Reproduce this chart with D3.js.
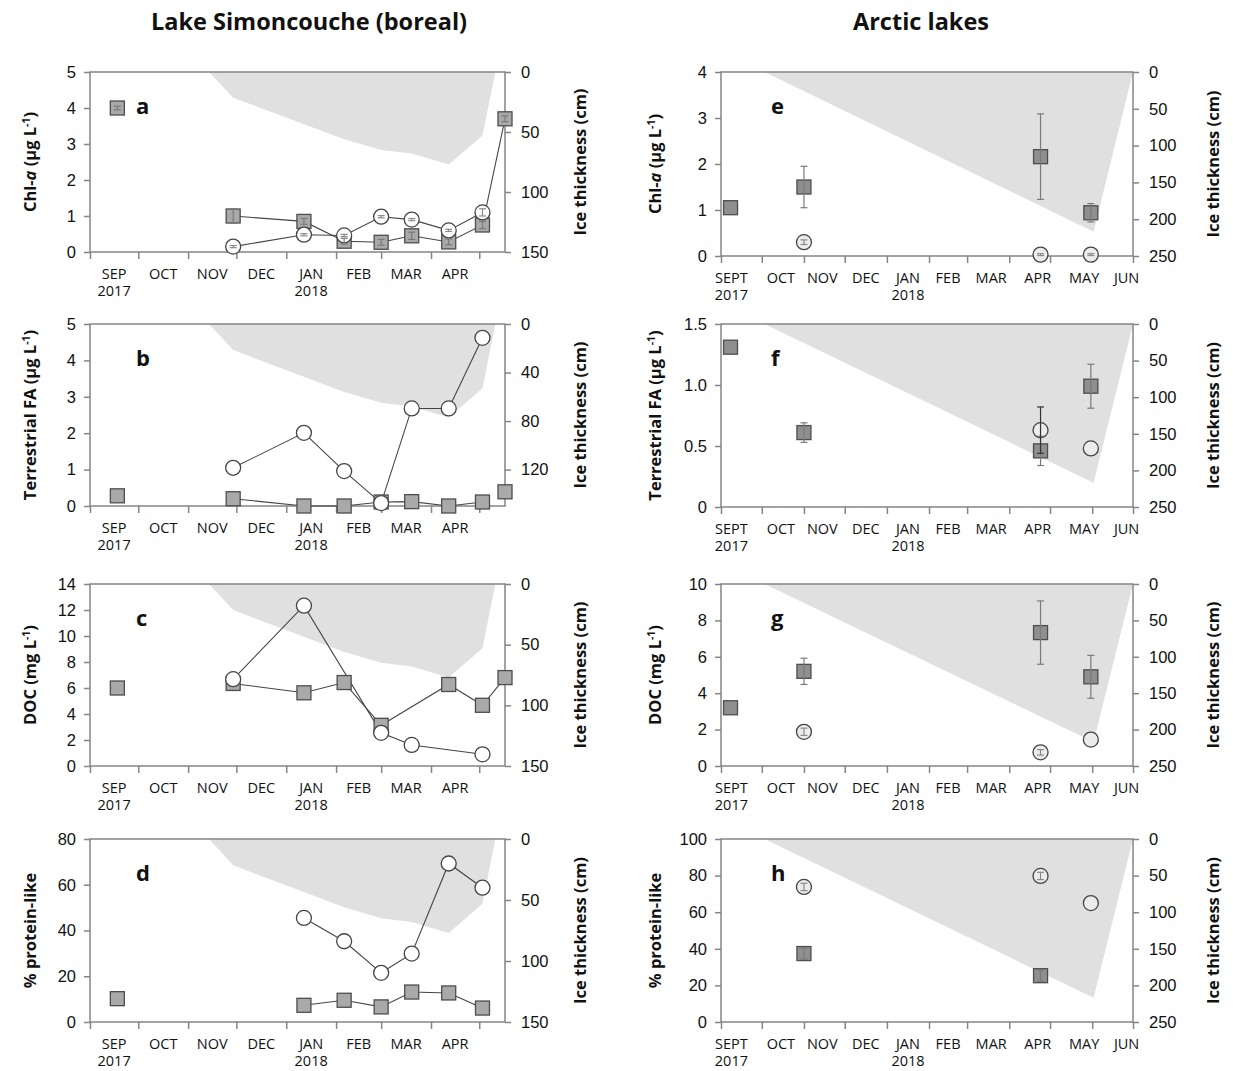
<!DOCTYPE html>
<html lang="en">
<head>
<meta charset="UTF-8">
<title>Ice-covered lakes</title>
<script src="https://d3js.org/d3.v7.min.js"></script>
<style>
    body { margin: 0; background: #fff; }
    svg { display: block; font-family: 'Open Sans', sans-serif; }
    .tick-label { font-size: 16.5px; fill: #111; }
    .month { font-size: 14.5px; fill: #111; }
    .axis-title { font-size: 16.5px; font-weight: bold; fill: #111; }
    .panel-letter { font-size: 22px; font-weight: bold; fill: #111; }
    .col-title { font-size: 23.5px; font-weight: bold; fill: #111; }
</style>
</head>
<body>
<svg id="chart" width="1233" height="1071"></svg>
<script>
    const parse = d3.timeParse("%Y-%m-%d");

    // sampling dates
    const borealDates = ["2017-09-18", "2017-11-29", "2018-01-12", "2018-02-06", "2018-03-01",
        "2018-03-20", "2018-04-12", "2018-05-03", "2018-05-17"];
    const arcticDates = ["2017-09-08", "2017-11-01", "2018-04-24", "2018-05-31"];

    const borealMonths = ["SEP", "OCT", "NOV", "DEC", "JAN", "FEB", "MAR", "APR"];
    const arcticMonths = ["SEPT", "OCT", "NOV", "DEC", "JAN", "FEB", "MAR", "APR", "MAY", "JUN"];
    // small horizontal nudges of the arctic month labels (px)
    const arcticMonthNudge = [-10, -2, -2, 0, 0, 0, 3, 8, 13, 14];

    // ice thickness (cm)
    const borealIceDates = ["2017-11-14", "2017-11-29", "2018-01-12", "2018-02-06", "2018-03-01",
        "2018-03-20", "2018-04-12", "2018-05-03", "2018-05-11"];
    const borealIceCm = [0, 21.5, 43.5, 56, 65, 68, 77, 53, 0];
    const arcticIceDates = ["2017-10-03", "2018-06-02", "2018-07-01"];
    const arcticIceCm = [0, 217, 0];

    // Lake Simoncouche: squares and circles
    const chlSq = [4.0, 1.0, 0.85, 0.30, 0.27, 0.45, 0.28, 0.75, 3.7];
    const chlSqErr = [0.05, 0.2, 0.08, 0.08, 0.08, 0.1, 0.08, 0.1, 0.08];
    const chlCi = [null, 0.15, 0.48, 0.46, 0.98, 0.90, 0.60, 1.10, null];
    const chlCiErr = [0, 0.03, 0.03, 0.03, 0.03, 0.03, 0.03, 0.1, 0];

    const tfaSq = [0.28, 0.20, 0.0, 0.0, 0.11, 0.12, 0.0, 0.11, 0.39];
    const tfaCi = [null, 1.05, 2.01, 0.96, 0.08, 2.68, 2.68, 4.62, null];

    const docSq = [6.0, 6.35, 5.63, 6.42, 3.13, null, 6.27, 4.67, 6.8];
    const docCi = [null, 6.68, 12.33, null, 2.55, 1.62, null, 0.9, null];

    const protSq = [10.2, null, 7.3, 9.5, 6.6, 13.1, 12.7, 6.1, null];
    const protCi = [null, null, 45.5, 35.3, 21.5, 29.9, 69.3, 58.7, null];

    // Arctic lakes: squares and circles with error bars
    const aChlSq = [1.05, 1.5, 2.16, 0.94];
    const aChlSqErr = [0, 0.45, 0.93, 0.2];
    const aChlCi = [null, 0.3, 0.03, 0.03];
    const aChlCiErr = [0, 0.05, 0.02, 0.02];

    const aTfaSq = [1.31, 0.61, 0.46, 0.99];
    const aTfaSqErr = [0, 0.08, 0.12, 0.18];
    const aTfaCi = [null, null, 0.63, 0.48];
    const aTfaCiErr = [0, 0, 0.19, 0];

    const aDocSq = [3.2, 5.2, 7.33, 4.9];
    const aDocSqErr = [0, 0.72, 1.74, 1.18];
    const aDocCi = [null, 1.88, 0.75, 1.45];
    const aDocCiErr = [0, 0.2, 0.15, 0];

    const aProtSq = [null, 37.4, 25.3, null];
    const aProtSqErr = [0, 3, 3, 0];
    const aProtCi = [null, 73.8, 79.8, 65];
    const aProtCiErr = [0, 2, 2, 0];

    const svg = d3.select("#chart");
    const axisColor = "#858585";

    svg.append("text").attr("class", "col-title").attr("x", 309).attr("y", 30)
        .attr("text-anchor", "middle").text("Lake Simoncouche (boreal)");
    svg.append("text").attr("class", "col-title").attr("x", 921).attr("y", 30)
        .attr("text-anchor", "middle").text("Arctic lakes");

    const chlTitle = [["Chl-"], ["a", "italic"], [" (µg L"], ["-1", "sup"], [")", "after"]];
    const tfaTitle = [["Terrestrial FA (µg L"], ["-1", "sup"], [")", "after"]];
    const docTitle = [["DOC (mg L"], ["-1", "sup"], [")", "after"]];
    const protTitle = [["% protein-like"]];

    const L = {x0: 90, x1: 505, start: "2017-09-01", end: "2018-05-17", months: borealMonths,
        dates: borealDates, iceDates: borealIceDates, ice: borealIceCm, iceMax: 150,
        titleX: 30, iceTitleX: 580, letterDx: 46};
    const R = {x0: 721, x1: 1133, start: "2017-09-01", end: "2018-07-01", months: arcticMonths,
        nudge: arcticMonthNudge, dates: arcticDates, iceDates: arcticIceDates, ice: arcticIceCm, iceMax: 250,
        titleX: 655, iceTitleX: 1213, letterDx: 50};

    const panels = [
        {side: L, y0: 72, y1: 252, max: 5, step: 1, fmt: d3.format("d"), iceStep: 50, title: chlTitle, letter: "a",
            sq: chlSq, sqErr: chlSqErr, ci: chlCi, ciErr: chlCiErr, sqLink: [1, 8], ciLink: [1, 7]},
        {side: L, y0: 324, y1: 506, max: 5, step: 1, fmt: d3.format("d"), iceStep: 40, title: tfaTitle, letter: "b",
            sq: tfaSq, ci: tfaCi, sqLink: [1, 7], ciLink: [1, 7]},
        {side: L, y0: 584, y1: 766, max: 14, step: 2, fmt: d3.format("d"), iceStep: 50, title: docTitle, letter: "c",
            sq: docSq, ci: docCi, sqLink: [1, 8], ciLink: [1, 7]},
        {side: L, y0: 839, y1: 1022, max: 80, step: 20, fmt: d3.format("d"), iceStep: 50, title: protTitle, letter: "d",
            sq: protSq, ci: protCi, sqLink: [1, 8], ciLink: [1, 8]},
        {side: R, y0: 72, y1: 256, max: 4, step: 1, fmt: d3.format("d"), iceStep: 50, title: chlTitle, letter: "e",
            sq: aChlSq, sqErr: aChlSqErr, ci: aChlCi, ciErr: aChlCiErr},
        {side: R, y0: 324, y1: 507, max: 1.5, step: 0.5, fmt: d => d === 0 ? "0" : d3.format(".1f")(d), iceStep: 50,
            title: tfaTitle, letter: "f", sq: aTfaSq, sqErr: aTfaSqErr, ci: aTfaCi, ciErr: aTfaCiErr, ciErrDark: true},
        {side: R, y0: 584, y1: 766, max: 10, step: 2, fmt: d3.format("d"), iceStep: 50, title: docTitle, letter: "g",
            sq: aDocSq, sqErr: aDocSqErr, ci: aDocCi, ciErr: aDocCiErr},
        {side: R, y0: 839, y1: 1022, max: 100, step: 20, fmt: d3.format("d"), iceStep: 50, title: protTitle, letter: "h",
            sq: aProtSq, sqErr: aProtSqErr, ci: aProtCi, ciErr: aProtCiErr}
    ];

    panels.forEach(p => {
        const s = p.side;
        const x = d3.scaleTime().domain([parse(s.start), parse(s.end)]).range([s.x0, s.x1]);
        const y = d3.scaleLinear().domain([0, p.max]).range([p.y1, p.y0]);
        const yIce = d3.scaleLinear().domain([0, s.iceMax]).range([p.y0, p.y1]);
        const g = svg.append("g");

        // ice cover
        const ice = s.iceDates.map((d, i) => [parse(d), s.ice[i]]);
        g.append("path")
            .attr("d", d3.area().x(d => x(d[0])).y0(p.y0).y1(d => yIce(d[1]))(ice))
            .attr("fill", "#e0e0e0");

        // frame
        g.append("rect").attr("x", s.x0).attr("y", p.y0)
            .attr("width", s.x1 - s.x0).attr("height", p.y1 - p.y0)
            .attr("fill", "none").attr("stroke", axisColor).attr("stroke-width", 1.5);

        // x axis: month boundaries and labels
        const monthStarts = d3.timeMonth.range(parse(s.start), d3.timeDay.offset(parse(s.end), 1));
        g.append("g").attr("transform", `translate(0,${p.y1})`)
            .call(d3.axisBottom(x).tickValues(monthStarts).tickSize(7).tickFormat(""))
            .call(a => a.select(".domain").remove())
            .call(a => a.selectAll("line").attr("stroke", axisColor).attr("stroke-width", 1.5));
        s.months.forEach((m, i) => {
            const mid = new Date((+monthStarts[i] + +d3.timeMonth.offset(monthStarts[i], 1)) / 2);
            const mx = x(mid) + (s.nudge ? s.nudge[i] : 0);
            g.append("text").attr("class", "month").attr("x", mx).attr("y", p.y1 + 26.5)
                .attr("text-anchor", "middle").text(m);
            const year = i === 0 ? "2017" : (m === "JAN" ? "2018" : null);
            if (year) {
                g.append("text").attr("class", "month").attr("x", mx).attr("y", p.y1 + 44)
                    .attr("text-anchor", "middle").text(year);
            }
        });

        // left axis
        g.append("g").attr("transform", `translate(${s.x0},0)`)
            .call(d3.axisLeft(y).tickValues(d3.range(0, p.max + 1e-9, p.step)).tickSize(6).tickPadding(8).tickFormat(p.fmt))
            .call(a => a.select(".domain").remove())
            .call(a => a.selectAll("line").attr("stroke", axisColor).attr("stroke-width", 1.5))
            .call(a => a.selectAll("text").attr("class", "tick-label").attr("font-family", null).attr("font-size", null));

        // right axis (ice thickness)
        g.append("g").attr("transform", `translate(${s.x1},0)`)
            .call(d3.axisRight(yIce).tickValues(d3.range(0, s.iceMax + 1e-9, p.iceStep)).tickSize(6).tickPadding(10))
            .call(a => a.select(".domain").remove())
            .call(a => a.selectAll("line").attr("stroke", axisColor).attr("stroke-width", 1.5))
            .call(a => a.selectAll("text").attr("class", "tick-label").attr("font-family", null).attr("font-size", null));

        // axis titles
        const midY = (p.y0 + p.y1) / 2;
        const t = g.append("text").attr("class", "axis-title")
            .attr("transform", `translate(${s.titleX},${midY}) rotate(-90)`)
            .attr("text-anchor", "middle").attr("dy", "0.35em");
        p.title.forEach(([txt, style]) => {
            const sp = t.append("tspan").text(txt);
            if (style === "italic") sp.attr("font-style", "italic");
            if (style === "sup") sp.attr("font-size", "10.5px").attr("dy", "-6");
            if (style === "after") sp.attr("dy", "6");
        });
        g.append("text").attr("class", "axis-title")
            .attr("transform", `translate(${s.iceTitleX},${midY}) rotate(-90)`)
            .attr("text-anchor", "middle").attr("dy", "0.35em").text("Ice thickness (cm)");

        g.append("text").attr("class", "panel-letter")
            .attr("x", s.x0 + s.letterDx).attr("y", p.y0 + 42).text(p.letter);

        // series
        const pts = (vals, errs) => vals.map((v, i) => ({i, date: parse(s.dates[i]), v, e: errs ? errs[i] : 0}))
            .filter(d => d.v !== null);
        const sqPts = pts(p.sq, p.sqErr);
        const ciPts = pts(p.ci, p.ciErr);
        const line = d3.line().x(d => x(d.date)).y(d => y(d.v));

        if (p.sqLink) {
            g.append("path").attr("d", line(sqPts.filter(d => d.i >= p.sqLink[0] && d.i <= p.sqLink[1])))
                .attr("fill", "none").attr("stroke", "#444").attr("stroke-width", 1.1);
            g.append("path").attr("d", line(ciPts.filter(d => d.i >= p.ciLink[0] && d.i <= p.ciLink[1])))
                .attr("fill", "none").attr("stroke", "#444").attr("stroke-width", 1.1);
        }

        const sqFill = s === L ? "#a9a9a9" : "#8f8f8f";
        const ciFill = s === L ? "#ffffff" : "#ececec";
        const sqSize = 14;

        g.selectAll(".sq").data(sqPts).enter().append("rect")
            .attr("x", d => x(d.date) - sqSize / 2).attr("y", d => y(d.v) - sqSize / 2)
            .attr("width", sqSize).attr("height", sqSize)
            .attr("fill", sqFill).attr("stroke", "#4d4d4d").attr("stroke-width", 1.3);
        g.selectAll(".ci").data(ciPts).enter().append("circle")
            .attr("cx", d => x(d.date)).attr("cy", d => y(d.v)).attr("r", 7.5)
            .attr("fill", ciFill).attr("stroke", "#444").attr("stroke-width", 1.3);

        // error bars
        const errBar = (data, color) => {
            data.filter(d => d.e > 0).forEach(d => {
                const cx = x(d.date), top = y(d.v + d.e), bot = y(d.v - d.e);
                g.append("line").attr("x1", cx).attr("x2", cx).attr("y1", top).attr("y2", bot)
                    .attr("stroke", color).attr("stroke-width", 1.2);
                [top, bot].forEach(yy => g.append("line").attr("x1", cx - 3.5).attr("x2", cx + 3.5)
                    .attr("y1", yy).attr("y2", yy).attr("stroke", color).attr("stroke-width", 1.2));
            });
        };
        errBar(sqPts, "#7a7a7a");
        errBar(ciPts, p.ciErrDark ? "#333" : "#8a8a8a");
    });
</script>
</body>
</html>
